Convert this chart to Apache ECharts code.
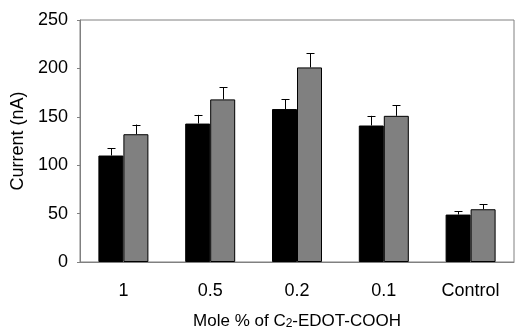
<!DOCTYPE html>
<html><head><meta charset="utf-8">
<script src="https://cdn.jsdelivr.net/npm/echarts@6/dist/echarts.min.js"></script>
<style>html,body{margin:0;padding:0;background:#fff}#c{width:515px;height:329px}</style>
</head><body><div id="c"></div>
<script>
var categories = ['1', '0.5', '0.2', '0.1', 'Control'];
var seriesA = [110, 143, 158, 141, 49];
var seriesB = [132, 168, 201, 151, 54.5];
var errA = [7.5, 9, 10, 10, 3.5];
var errB = [10, 12.5, 14.5, 11, 5];
var yTicks = [0, 50, 100, 150, 200, 250];

var FONT = 'Liberation Sans, Arial, sans-serif';
var BW = 25;
function errSeries(vals, errs, off) {
  return {
    type: 'custom',
    data: vals.map(function (v, i) { return [i, v, v + errs[i]]; }),
    z: 1,
    renderItem: function (params, api) {
      var p0 = api.coord([api.value(0), api.value(1)]);
      var p1 = api.coord([api.value(0), api.value(2)]);
      var x = Math.round(p0[0] + off) + 0.5;
      return {
        type: 'group',
        children: [
          { type: 'line', shape: { x1: x, y1: p0[1], x2: x, y2: p1[1] }, style: { stroke: '#000', lineWidth: 1 } },
          { type: 'line', shape: { x1: x - 4, y1: Math.round(p1[1]) + 0.5, x2: x + 4, y2: Math.round(p1[1]) + 0.5 }, style: { stroke: '#000', lineWidth: 1 } }
        ]
      };
    }
  };
}
var chart = echarts.init(document.getElementById('c'), null, { renderer: 'canvas' });
chart.setOption({
  animation: false,
  textStyle: { fontFamily: FONT, color: '#000' },
  grid: { left: 80, right: 1, top: 20, bottom: 67, outerBoundsMode: 'none', containLabel: false,
    show: true, borderColor: '#808080', borderWidth: 1, backgroundColor: 'transparent' },
  xAxis: {
    type: 'category', data: categories,
    axisLine: { lineStyle: { color: '#808080' } },
    axisTick: { inside: true, length: 5, lineStyle: { color: '#808080' } },
    axisLabel: { color: '#000', fontSize: 18, fontFamily: FONT, margin: 20 },
    name: '{a|Mole % of C}{s|2}{a|-EDOT-COOH}',
    nameLocation: 'middle', nameGap: 51,
    nameTextStyle: {
      rich: {
        a: { fontSize: 17, fontFamily: FONT, color: '#000' },
        s: { fontSize: 12, fontFamily: FONT, color: '#000', verticalAlign: 'bottom', padding: [4, 0, 0, 0] }
      }
    }
  },
  yAxis: {
    type: 'value', min: 0, max: 250, interval: 50,
    axisLine: { show: true, lineStyle: { color: '#808080' } },
    axisTick: { show: true, length: 3, lineStyle: { color: '#808080' } },
    splitLine: { show: false },
    axisLabel: { color: '#000', fontSize: 18, fontFamily: FONT, margin: 12,
      formatter: function (v) { return yTicks.indexOf(v) >= 0 ? String(v) : ''; } },
    name: 'Current (nA)', nameLocation: 'middle', nameGap: 50,
    nameTextStyle: { fontSize: 18, fontFamily: FONT, color: '#000' }
  },
  series: [
    { type: 'bar', data: seriesA, barWidth: BW, barGap: '0%', z: 2,
      itemStyle: { color: '#000', borderColor: '#000', borderWidth: 1 } },
    { type: 'bar', data: seriesB, barWidth: BW, barGap: '0%', z: 2,
      itemStyle: { color: '#808080', borderColor: '#000', borderWidth: 1 } },
    errSeries(seriesA, errA, -BW / 2),
    errSeries(seriesB, errB, BW / 2)
  ]
});
</script></body></html>
